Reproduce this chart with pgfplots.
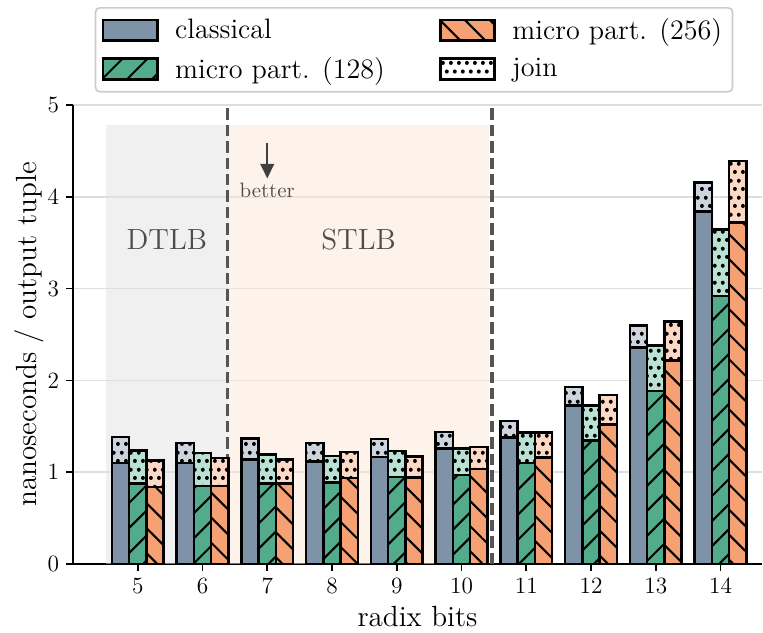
\documentclass[border=0pt]{standalone}
\usepackage{fontspec}
\usepackage{pgfplots}
\usepackage{pgfplotstable}
\pgfplotsset{compat=1.18}
\usetikzlibrary{patterns,patterns.meta,arrows.meta,calc}

\definecolor{cls}{RGB}{127,147,168}
\definecolor{mpA}{RGB}{82,171,139}
\definecolor{mpB}{RGB}{245,161,116}
\definecolor{clsL}{RGB}{205,212,221}
\definecolor{mpAL}{RGB}{186,226,212}
\definecolor{mpBL}{RGB}{253,216,196}
\definecolor{shadeD}{RGB}{225,225,225}
\definecolor{shadeS}{RGB}{253,231,213}
\definecolor{sep}{RGB}{85,85,85}

% staggered dot grid for the join share
\pgfdeclarepatternformonly{joindots}{\pgfqpoint{0pt}{0pt}}{\pgfqpoint{4pt}{8pt}}{\pgfqpoint{4pt}{8pt}}{%
  \pgfpathcircle{\pgfqpoint{1pt}{1.5pt}}{1.0pt}%
  \pgfpathcircle{\pgfqpoint{3pt}{5.5pt}}{1.0pt}%
  \pgfusepath{fill}%
}

\tikzset{
  barout/.style={draw=black, line width=1.25pt},
  hatchA/.style={postaction={pattern={Lines[angle=45,distance=8.5pt,line width=1pt]}, pattern color=black}},
  hatchB/.style={postaction={pattern={Lines[angle=-45,distance=8.5pt,line width=1pt]}, pattern color=black}},
  dotted join/.style={postaction={pattern=joindots, pattern color=black}},
}

% radix bits, partitioning share (base) and total time per output tuple
\pgfplotstableread{
x  clsbase clstot m128base m128tot m256base m256tot
5  1.100 1.385 0.880 1.235 0.840 1.130
6  1.100 1.320 0.850 1.210 0.850 1.155
7  1.140 1.370 0.880 1.190 0.880 1.140
8  1.115 1.320 0.890 1.175 0.935 1.220
9  1.165 1.360 0.950 1.230 0.945 1.170
10 1.260 1.440 0.970 1.260 1.035 1.275
11 1.375 1.560 1.100 1.430 1.160 1.435
12 1.725 1.930 1.345 1.725 1.520 1.840
13 2.360 2.600 1.885 2.380 2.215 2.645
14 3.840 4.155 2.920 3.645 3.720 4.390
}\radix

\begin{document}
\begin{tikzpicture}
\begin{axis}[
  scale only axis,
  width=330.7pt, height=220.3pt,
  xmin=4.0, xmax=14.64,
  ymin=0, ymax=5,
  axis lines*=left,
  axis line style={black, line width=0.8pt},
  xtick={5,...,14},
  ytick={0,1,2,3,4,5},
  tick align=outside,
  major tick length=3.2pt,
  tick style={black, line width=0.8pt},
  ymajorgrids,
  grid style={black!13, line width=0.8pt},
  /pgf/number format/assume math mode=true,
  tick label style={font=\fontsize{11.2}{13}\selectfont},
  xlabel={radix bits},
  ylabel={nanoseconds / output tuple},
  label style={font=\fontsize{14}{17}\selectfont},
  xlabel style={at={(axis description cs:0.5,0)}, anchor=center, yshift=-25.4pt},
  ylabel style={at={(axis description cs:-0.0635,0.5)}, anchor=center},
  legend image code/.code={\draw[sharp corners, #1] (0pt,-5pt) rectangle (26pt,5pt);},
  legend columns=2,
  legend cell align=left,
  legend style={
    at={(0.495,1)}, anchor=south, yshift=6pt,
    draw=black!20, line width=0.8pt, rounded corners=2pt, fill=white,
    font=\fontsize{13.5}{16}\selectfont,
    inner xsep=3pt, inner ysep=3pt,
    /tikz/every odd column/.append style={column sep=6pt},
    /tikz/every even column/.append style={column sep=24pt},
    /tikz/row sep=3pt,
  },
]
\coordinate (o) at (rel axis cs:0,0);

% TLB regions
\fill[shadeD, opacity=0.5] (axis cs:4.51,0) rectangle (axis cs:6.39,4.78);
\fill[shadeS, opacity=0.5] (axis cs:6.39,0) rectangle (axis cs:10.43,4.78);
\draw[sep, line width=1.5pt, dash pattern=on 5.5pt off 2.4pt] (axis cs:6.39,0) -- (axis cs:6.39,5);
\draw[sep, line width=1.5pt, dash pattern=on 5.5pt off 2.4pt] (axis cs:10.47,0) -- (axis cs:10.47,5);

% legend entries
\addlegendimage{fill=cls, barout}
\addlegendentry{classical}
\addlegendimage{fill=mpB, barout, hatchB}
\addlegendentry{micro part. (256)}
\addlegendimage{fill=mpA, barout, hatchA}
\addlegendentry{micro part. (128)}
\addlegendimage{fill=white, barout, dotted join}
\addlegendentry{join}

% classical
\addplot[ybar, bar width=0.2667, bar shift=-0.2667, fill=clsL, barout, dotted join, forget plot]
  table[x=x, y=clstot] {\radix};
\addplot[ybar, bar width=0.2667, bar shift=-0.2667, fill=cls, barout, forget plot]
  table[x=x, y=clsbase] {\radix};
% micro partitioning, 128
\addplot[ybar, bar width=0.2667, bar shift=0, fill=mpAL, barout, dotted join, forget plot]
  table[x=x, y=m128tot] {\radix};
\addplot[ybar, bar width=0.2667, bar shift=0, fill=mpA, barout, hatchA, forget plot]
  table[x=x, y=m128base] {\radix};
% micro partitioning, 256
\addplot[ybar, bar width=0.2667, bar shift=0.2667, fill=mpBL, barout, dotted join, forget plot]
  table[x=x, y=m256tot] {\radix};
\addplot[ybar, bar width=0.2667, bar shift=0.2667, fill=mpB, barout, hatchB, forget plot]
  table[x=x, y=m256base] {\radix};

\node[text=black!70, font=\fontsize{14}{17}\selectfont] at (axis cs:5.45,3.53) {DTLB};
\node[text=black!70, font=\fontsize{14}{17}\selectfont] at (axis cs:8.41,3.53) {STLB};
\draw[black!75, line width=1.1pt, -{Triangle[length=7pt,width=6.5pt]}] (axis cs:7,4.59) -- (axis cs:7,4.2);
\node[text=black!70, font=\fontsize{10}{12}\selectfont] at (axis cs:7,4.07) {better};
\end{axis}
\pgfresetboundingbox
\useasboundingbox ($(o)+(-35.04pt,-32.64pt)$) rectangle ++(366.24pt,303.36pt);
\end{tikzpicture}
\end{document}
